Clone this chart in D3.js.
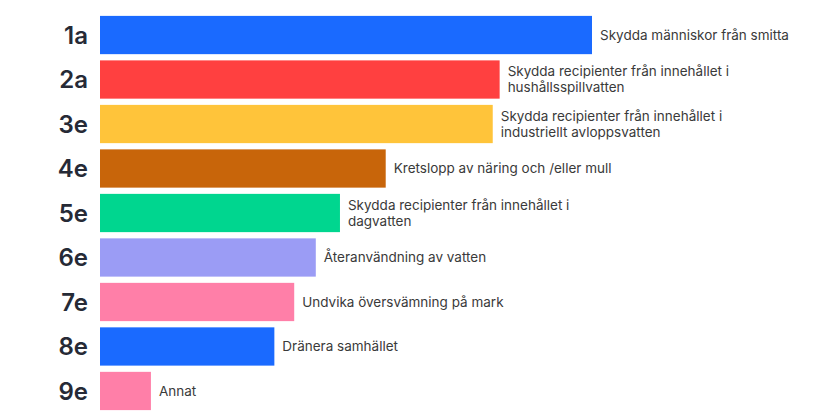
<!DOCTYPE html>
<html><head><meta charset="utf-8">
<script src="https://cdn.jsdelivr.net/npm/d3@7"></script>
<style>body{margin:0;background:#fff}svg{display:block}</style>
</head><body>
<svg id="c" width="824" height="412"></svg>
<script>
const categories = ["1a","2a","3e","4e","5e","6e","7e","8e","9e"];
const values = [57, 46.3, 45.5, 33.1, 27.8, 25, 22.5, 20.2, 5.9];
const labels = [
  ["Skydda människor från smitta"],
  ["Skydda recipienter från innehållet i","hushållsspillvatten"],
  ["Skydda recipienter från innehållet i","industriellt avloppsvatten"],
  ["Kretslopp av näring och /eller mull"],
  ["Skydda recipienter från innehållet i","dagvatten"],
  ["Återanvändning av vatten"],
  ["Undvika översvämning på mark"],
  ["Dränera samhället"],
  ["Annat"]
];
const colors = ["#1a6aff","#ff4040","#ffc43a","#c8650a","#00d68f","#9b9cf5","#ff7fa8","#1a6aff","#ff7fa8"];

const svg = d3.select("#c");
const x = d3.scaleLinear().domain([0, 57]).range([100, 592]);
const y = d3.scaleBand().domain(categories).range([15, 411]).paddingInner(0.14).paddingOuter(0.02);

const g = svg.selectAll("g.row").data(categories).join("g").attr("class","row");
g.append("rect")
  .attr("x", x(0))
  .attr("y", d => y(d))
  .attr("width", (d,i) => x(values[i]) - x(0))
  .attr("height", y.bandwidth())
  .attr("fill", (d,i) => colors[i]);

g.append("text")
  .attr("x", 88)
  .attr("y", d => y(d) + y.bandwidth()/2)
  .attr("dy", "0.36em")
  .attr("text-anchor", "end")
  .attr("font-family", "Inter, 'Noto Sans', sans-serif")
  .attr("font-weight", 600)
  .attr("font-size", 24)
  .attr("fill", "#262a36")
  .text(d => d);

g.each(function(d,i){
  const lines = labels[i];
  const cy = y(d) + y.bandwidth()/2;
  const lh = 16;
  const t = d3.select(this).append("text")
    .attr("font-family", "Inter, 'Noto Sans', sans-serif")
    .attr("font-size", 13.5)
    .attr("fill", "#3a3a3a");
  lines.forEach((l,j) => {
    t.append("tspan")
      .attr("x", x(values[i]) + 8)
      .attr("y", cy + (j - (lines.length-1)/2) * lh)
      .attr("dy", "0.35em")
      .text(l);
  });
});
</script>
</body></html>
